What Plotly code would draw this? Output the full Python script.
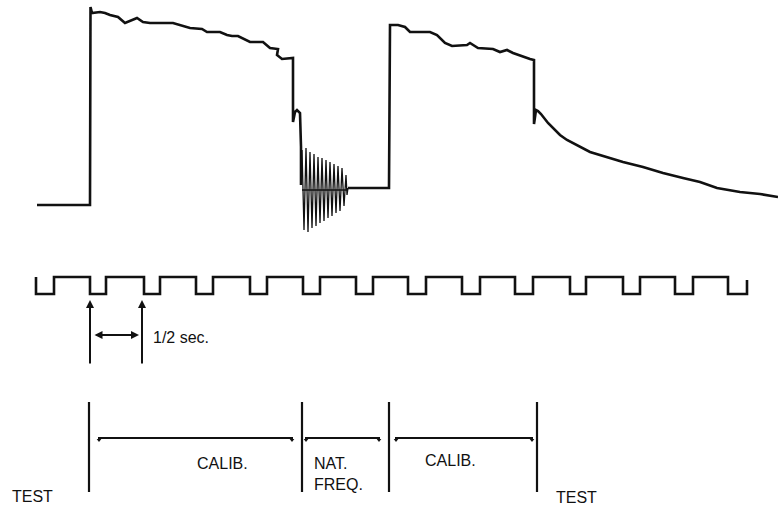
import plotly.graph_objects as go

# Recorder trace: chart units (x along the strip, y down the strip)
trace_x = [37, 90, 90.5, 92, 100, 105, 110, 118, 125, 130, 137, 143, 150, 173, 180,
           190, 202, 207, 220, 227, 232, 238, 250, 263, 270, 278, 277, 282, 293,
           293, 295, 297, 300, 301, 301]
trace_y = [205, 205, 7, 13, 12, 13, 15, 17, 23, 21, 18, 22, 23, 23, 25,
           28, 29, 32, 32, 35, 36, 36, 42, 42, 48, 49, 55, 59, 58,
           122, 112, 110, 113, 147, 185]

# Natural-frequency ring-down (alternating peaks)
ring_x = [302, 304, 306, 308, 310, 312, 314, 316, 318, 320, 322, 324, 326, 328,
          330, 332, 334, 336, 338, 340, 342, 344, 346, 347, 348]
ring_y = [150, 230, 148, 232, 152, 228, 154, 226, 157, 223, 158, 221, 160, 218,
          162, 216, 164, 213, 166, 211, 168, 206, 175, 195, 188]

# Second calibration step and the final test decay
trace2_x = [348, 389, 390, 398, 405, 410, 430, 437, 445, 452, 467, 470, 478, 493,
            500, 507, 513, 523, 530, 534, 534, 536, 538, 541, 548, 560, 567, 590,
            610, 623, 643, 663, 683, 700, 717, 740, 760, 778]
trace2_y = [188, 188, 25, 25, 27, 32, 32, 35, 43, 46, 45, 43, 48, 49,
            52, 50, 53, 57, 59, 60, 124, 110, 111, 114, 123, 135, 140, 152,
            158, 162, 167, 173, 178, 182, 188, 192, 194, 197]

# Timing marks: 1/2 sec square wave (low intervals)
pulse_low = [(36, 54), (90, 106), (144, 160), (196, 213), (250, 267), (303, 320),
             (356, 373), (408, 426), (462, 480), (515, 533), (570, 586), (623, 640),
             (675, 693), (728, 747)]
pulse_high, pulse_base, pulse_end = 277, 294, 280

# Phase boundaries and labelled spans
phase_marks = [89, 302, 389, 537]
spans = [(98, 293), (305, 380), (395, 533)]
labels = [("TEST", 32, 496), ("CALIB.", 222, 463), ("NAT.<br>FREQ.", 338, 474),
          ("CALIB.", 450, 460), ("TEST", 576, 497)]

ink = "#111111"
font = dict(family="Liberation Sans, Arial", size=16, color=ink)
fig = go.Figure()

def add_line(xs, ys, w=2.6):
    fig.add_trace(go.Scatter(x=xs, y=ys, mode="lines", line=dict(color=ink, width=w),
                             hoverinfo="skip", showlegend=False))

add_line(trace_x, trace_y)
add_line(ring_x, ring_y, 1.3)
add_line([302, 348], [190, 190], 1.6)
add_line(trace2_x, trace2_y)

# Square wave built from its low intervals
sx, sy = [], []
for a, b in pulse_low:
    sx += [a, a, b, b]
    sy += [pulse_high, pulse_base, pulse_base, pulse_high]
sy[-1] = pulse_end
add_line(sx, sy, 2.6)

for m in phase_marks:
    add_line([m, m], [402, 492], 2.2)
for a, b in spans:
    add_line([a, b], [438, 438], 2.2)
    fig.add_trace(go.Scatter(x=[a + 1, b - 1], y=[440, 440], mode="markers",
                             marker=dict(symbol="triangle-down", size=4, color=ink),
                             hoverinfo="skip", showlegend=False))

# 1/2 sec marker
for m in (90, 142):
    fig.add_annotation(x=m, y=300, ax=m, ay=365, xref="x", yref="y", axref="x", ayref="y",
                       showarrow=True, arrowhead=2, arrowsize=0.8, arrowwidth=2,
                       arrowcolor=ink, text="")
fig.add_annotation(x=139, y=335, ax=93, ay=335, xref="x", yref="y", axref="x", ayref="y",
                   showarrow=True, arrowhead=2, arrowside="end+start", arrowsize=0.8,
                   arrowwidth=2, arrowcolor=ink, text="")
fig.add_annotation(x=151, y=337, text="1/2 sec.", showarrow=False, xanchor="left", font=font)

for txt, x, y in labels:
    fig.add_annotation(x=x, y=y, text=txt, showarrow=False, align="left", font=font)

fig.update_layout(width=778, height=510, margin=dict(l=0, r=0, t=0, b=0),
                  paper_bgcolor="white", plot_bgcolor="white")
fig.update_xaxes(range=[0, 778], visible=False)
fig.update_yaxes(range=[510, 0], visible=False)
fig.write_html("out.html")
